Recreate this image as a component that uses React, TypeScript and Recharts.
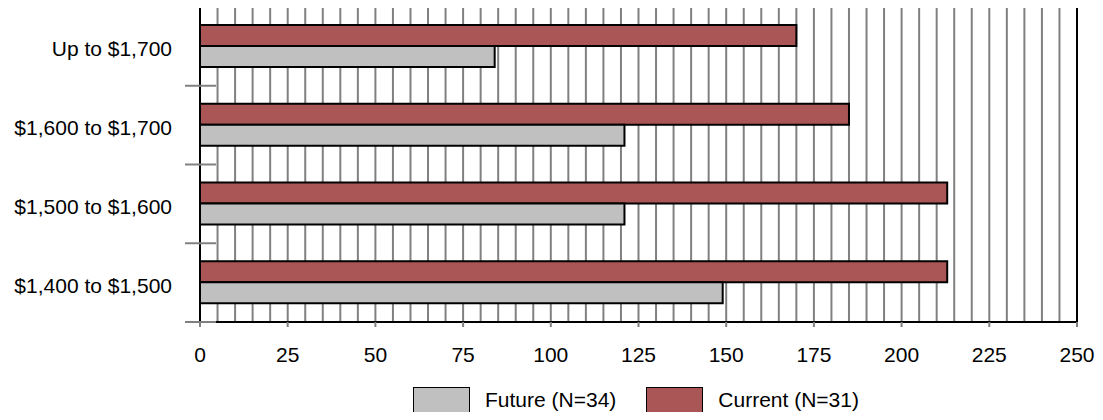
import React from 'react';
import {
  BarChart,
  Bar,
  XAxis,
  YAxis,
  CartesianGrid,
  Legend,
  ReferenceArea,
} from 'recharts';

const categories = ['Up to $1,700', '$1,600 to $1,700', '$1,500 to $1,600', '$1,400 to $1,500'];
const currentValues = [170, 185, 213, 213];
const futureValues = [84, 121, 121, 149];
const majorTicks = [0, 25, 50, 75, 100, 125, 150, 175, 200, 225, 250];
const seriesNames = { future: 'Future (N=34)', current: 'Current (N=31)' };

const RED = '#ab5656';
const GREY = '#c0c0c0';
const GRID = '#808080';
const FONT = '"Liberation Sans", Arial, sans-serif';
const LABEL_GAP = 28;

const data = categories.map((label, i) => ({
  label,
  current: currentValues[i],
  future: futureValues[i],
}));

// gridlines every 5, labels only every 25
const minorTicks: number[] = [];
for (let v = 0; v <= 250; v += 5) minorTicks.push(v);

const XTick = (props: any) => {
  const { x, y, payload } = props;
  if (!majorTicks.includes(payload.value)) return null;
  return (
    <g>
      <line x1={x} x2={x} y1={y} y2={y + 5} stroke={GRID} strokeWidth={2} />
      <text x={x} y={y + 40} textAnchor="middle" fontSize={21} fontFamily={FONT} fill="#000">
        {payload.value}
      </text>
    </g>
  );
};

// label at band centre + crossing tick marks on the band edges (excel style)
const CategoryTick = (props: any) => {
  const { x, y, payload, index, height, visibleTicksCount } = props;
  const half = payload.offset || height / visibleTicksCount / 2;
  const ax = x + LABEL_GAP;
  const edge = (ey: number) => (
    <line x1={ax - 15} x2={ax + 16} y1={ey} y2={ey} stroke={GRID} strokeWidth={2} />
  );
  return (
    <g>
      {edge(y - half)}
      {index === visibleTicksCount - 1 && edge(y + half)}
      <text x={x} y={y} dy={10} textAnchor="end" fontSize={21} fontFamily={FONT} fill="#000">
        {payload.value}
      </text>
    </g>
  );
};

const LegendBox = () => {
  const item = (color: string, name: string) => (
    <div style={{ display: 'flex', alignItems: 'center', marginRight: 30 }}>
      <div
        style={{
          width: 55,
          height: 24,
          background: color,
          border: '1.5px solid #000',
          marginRight: 15,
        }}
      />
      <span style={{ fontSize: 21, fontFamily: FONT, color: '#000' }}>{name}</span>
    </div>
  );
  return (
    <div style={{ display: 'flex', paddingTop: 25, paddingLeft: 413 }}>
      {item(GREY, seriesNames.future)}
      {item(RED, seriesNames.current)}
    </div>
  );
};

export default function App() {
  return (
    <div style={{ margin: -8, width: 1103, height: 420, background: '#fff' }}>
      <BarChart
        width={1103}
        height={420}
        data={data}
        layout="vertical"
        margin={{ top: 7, right: 26, left: 0, bottom: 0 }}
        barCategoryGap="23%"
        barGap={0}
      >
        <CartesianGrid horizontal={false} stroke={GRID} strokeWidth={2} />
        <XAxis
          type="number"
          domain={[0, 250]}
          ticks={minorTicks}
          interval={0}
          height={40}
          tickLine={false}
          tickSize={0}
          tickMargin={0}
          tick={<XTick />}
          axisLine={{ stroke: '#000', strokeWidth: 2 }}
        />
        <YAxis
          type="category"
          dataKey="label"
          width={200}
          interval={0}
          tickLine={false}
          tickSize={0}
          tickMargin={LABEL_GAP}
          tick={<CategoryTick />}
          axisLine={{ stroke: '#000', strokeWidth: 2 }}
        />
        <ReferenceArea x1={0} x2={250} fill="none" stroke="#000" strokeWidth={2} ifOverflow="visible" />
        <Bar dataKey="current" name={seriesNames.current} fill={RED} stroke="#000" strokeWidth={2} isAnimationActive={false} />
        <Bar dataKey="future" name={seriesNames.future} fill={GREY} stroke="#000" strokeWidth={2} isAnimationActive={false} />
        <Legend verticalAlign="bottom" wrapperStyle={{ height: 58, left: 0, width: 1103 }} content={<LegendBox />} />
      </BarChart>
    </div>
  );
}
